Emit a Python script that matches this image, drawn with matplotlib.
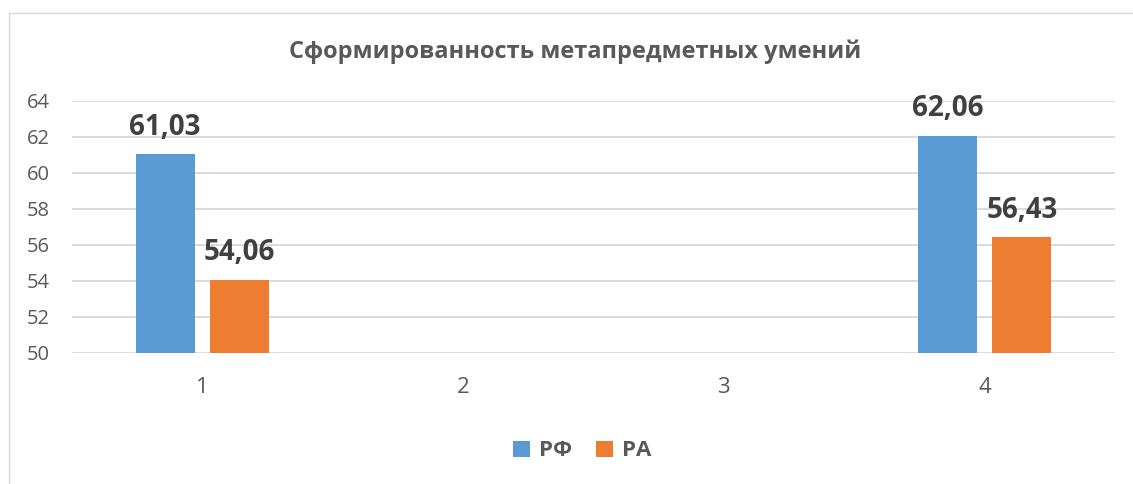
import numpy as np
import matplotlib
matplotlib.use("Agg")
import matplotlib.pyplot as plt
from matplotlib.patches import Rectangle

categories = ["1", "2", "3", "4"]
rf_values = [61.03, np.nan, np.nan, 62.06]
ra_values = [54.06, np.nan, np.nan, 56.43]
series_names = ["РФ", "РА"]
title = "Сформированность метапредметных умений"
yticks = [50, 52, 54, 56, 58, 60, 62, 64]

plt.rcParams['font.family'] = ['Open Sans', 'DejaVu Sans']
W, H = 1133, 484
fig = plt.figure(figsize=(W / 100, H / 100), dpi=100)
fig.patch.set_facecolor("white")

# chart border
fig.patches.append(Rectangle((8.5 / W, -0.1), 1.2, 1 - 12.5 / H + 0.1,
                             transform=fig.transFigure, fill=False,
                             edgecolor="#d9d9d9", linewidth=1.0))

ax = fig.add_axes([72 / W, 1 - 353 / H, (1115 - 72) / W, (353 - 101) / H])
x = np.arange(len(categories))
bw = 0.226
off = 0.143
blue = "#5b9bd5"
orange = "#ed7d31"
txt = "#595959"
lab = "#404040"

b1 = ax.bar(x - off, rf_values, bw, color=blue, label=series_names[0], zorder=3)
b2 = ax.bar(x + off, ra_values, bw, color=orange, label=series_names[1], zorder=3)

for xs, vals in ((x - off, rf_values), (x + off, ra_values)):
    for xi, v in zip(xs, vals):
        if not np.isnan(v):
            ax.annotate(f"{v:.2f}".replace(".", ","), (xi, v), xytext=(0, 9),
                        textcoords="offset points", ha="center", va="bottom",
                        fontsize=20, fontweight="bold", color=lab,
                        clip_on=False, annotation_clip=False)

ax.set_xlim(-0.5, len(categories) - 0.5)
ax.set_ylim(50, 64)
ax.set_yticks(yticks)
ax.set_yticklabels([str(t) for t in yticks])
ax.set_xticks(x)
ax.set_xticklabels(categories)
ax.tick_params(axis="y", length=0, pad=16, labelsize=14.5, labelcolor=txt)
ax.tick_params(axis="x", length=0, pad=17, labelsize=16, labelcolor=txt)
for s in ax.spines.values():
    s.set_visible(False)
ax.grid(axis="y", color="#d9d9d9", linewidth=1.3, zorder=0)
ax.set_axisbelow(True)

fig.text(575 / W, 1 - 52 / H, title, ha="center", va="center",
         fontsize=17, fontweight="bold", color=txt)

leg = fig.legend(handles=[b1, b2], labels=series_names, loc="center",
                 bbox_to_anchor=(582 / W, 1 - 451 / H), ncol=2, frameon=False,
                 prop={"size": 16, "weight": "bold"}, handlelength=0.75,
                 handleheight=0.75, handletextpad=0.4, columnspacing=1.1)
for t in leg.get_texts():
    t.set_color(txt)

fig.savefig("out.png", dpi=100, facecolor="white")
